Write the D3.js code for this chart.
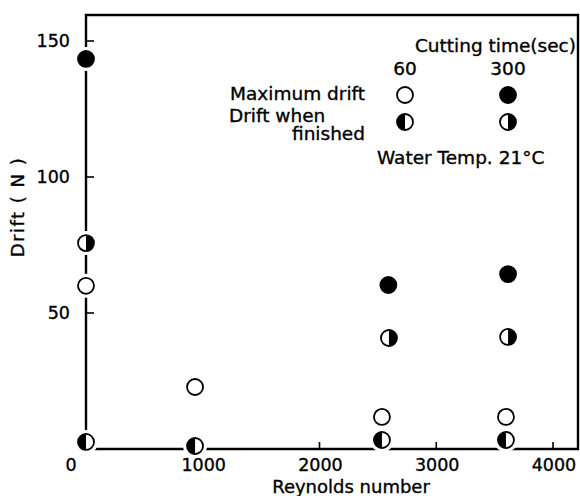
<!DOCTYPE html>
<html>
<head>
<meta charset="utf-8">
<script src="https://cdn.jsdelivr.net/npm/d3@7/dist/d3.min.js"></script>
<style>
  body { margin: 0; background: #fff; }
  text { font-family: 'DejaVu Sans', sans-serif; fill: #000; stroke: #000; stroke-width: 0.35px; }
</style>
</head>
<body>
<div id="chart"></div>
<script>
// data
var xTicks = [0, 1000, 2000, 3000, 4000];
var yTicks = [50, 100, 150];

var max60 = [[0, 60], [934, 22.8], [2535, 11.8], [3597, 11.8]];
var fin60 = [[0, 2.6], [934, 1.1], [2535, 3.3], [3597, 3.3]];
var max300 = [[0, 143.4], [2590, 60.3], [3615, 64.3]];
var fin300 = [[0, 75.7], [2595, 40.8], [3615, 41.2]];

var width = 580,
  height = 496;

var svg = d3.select('#chart')
  .append('svg')
  .attr('width', width)
  .attr('height', height);

var xScale = d3.scaleLinear()
  .domain([0, 4000])
  .range([86, 553]);

var yScale = d3.scaleLinear()
  .domain([0, 150])
  .range([449, 41]);

var x0 = xScale(0),
  x1 = 578,
  y0 = yScale(0),
  y1 = 15;

// frame
var frame = svg.append('g')
  .attr('stroke', '#000')
  .attr('stroke-width', 2.4)
  .attr('fill', 'none');

frame.append('path')
  .attr('d', 'M' + x0 + ',' + y0 + 'V' + y1 + 'H' + x1 + 'V' + y0 + 'Z');

// ticks point inward
frame.selectAll('.xt')
  .data(xTicks.slice(1))
  .enter()
  .append('line')
  .attr('x1', function(d) { return xScale(d); })
  .attr('x2', function(d) { return xScale(d); })
  .attr('y1', y0)
  .attr('y2', y0 - 7)
  .attr('stroke-width', 1.6);

frame.selectAll('.yt')
  .data(yTicks)
  .enter()
  .append('line')
  .attr('x1', x0)
  .attr('x2', x0 + 8)
  .attr('y1', function(d) { return yScale(d); })
  .attr('y2', function(d) { return yScale(d); })
  .attr('stroke-width', 1.6);

// tick labels
svg.selectAll('.xl')
  .data(xTicks)
  .enter()
  .append('text')
  .attr('x', function(d) { return d === 0 ? x0 - 15 : xScale(d) + 1; })
  .attr('y', 471)
  .attr('text-anchor', 'middle')
  .style('font-size', '17.5px')
  .text(function(d) { return d; });

svg.selectAll('.yl')
  .data(yTicks)
  .enter()
  .append('text')
  .attr('x', 70)
  .attr('y', function(d) { return yScale(d) + 6; })
  .attr('text-anchor', 'end')
  .style('font-size', '17.5px')
  .text(function(d) { return d; });

svg.append('text')
  .attr('x', 351)
  .attr('y', 493)
  .attr('text-anchor', 'middle')
  .style('font-size', '18px')
  .text('Reynolds number');

svg.append('text')
  .attr('transform', 'translate(24,207) rotate(-90)')
  .attr('text-anchor', 'middle')
  .style('font-size', '18px')
  .style('letter-spacing', '1.5px')
  .text('Drift ( N )');

// markers
var r = 8;
var halfArc = d3.arc().innerRadius(0).outerRadius(r);

function marker(g, kind) {
  g.append('circle')
    .attr('r', r + 4)
    .attr('fill', '#fff');
  g.append('circle')
    .attr('r', r)
    .attr('fill', kind === 'full' ? '#000' : '#fff')
    .attr('stroke', '#000')
    .attr('stroke-width', 1.8);
  if (kind === 'left') {
    g.append('path').attr('d', halfArc({ startAngle: Math.PI, endAngle: 2 * Math.PI }));
  }
  if (kind === 'right') {
    g.append('path').attr('d', halfArc({ startAngle: 0, endAngle: Math.PI }));
  }
}

var series = [
  { kind: 'open', values: max60 },
  { kind: 'left', values: fin60 },
  { kind: 'full', values: max300 },
  { kind: 'right', values: fin300 }
];

series.forEach(function(s) {
  svg.append('g')
    .selectAll('g')
    .data(s.values)
    .enter()
    .append('g')
    .attr('transform', function(d) {
      return 'translate(' + xScale(d[0]) + ',' + yScale(d[1]) + ')';
    })
    .each(function() { marker(d3.select(this), s.kind); });
});

// legend
var leg = svg.append('g').style('font-size', '18.5px');

leg.append('text').attr('x', 576).attr('y', 52).attr('text-anchor', 'end').text('Cutting time(sec)');
leg.append('text').attr('x', 405).attr('y', 75).attr('text-anchor', 'middle').text('60');
leg.append('text').attr('x', 508).attr('y', 75).attr('text-anchor', 'middle').text('300');
leg.append('text').attr('x', 365).attr('y', 100).attr('text-anchor', 'end').text('Maximum drift');
leg.append('text').attr('x', 229).attr('y', 122).text('Drift when');
leg.append('text').attr('x', 365).attr('y', 140).attr('text-anchor', 'end').text('finished');
leg.append('text').attr('x', 377).attr('y', 164).text('Water Temp. 21°C');

[[405, 95, 'open'], [508, 95, 'full'], [405, 122, 'left'], [508, 122, 'right']].forEach(function(m) {
  var g = leg.append('g').attr('transform', 'translate(' + m[0] + ',' + m[1] + ')');
  marker(g, m[2]);
});
</script>
</body>
</html>
